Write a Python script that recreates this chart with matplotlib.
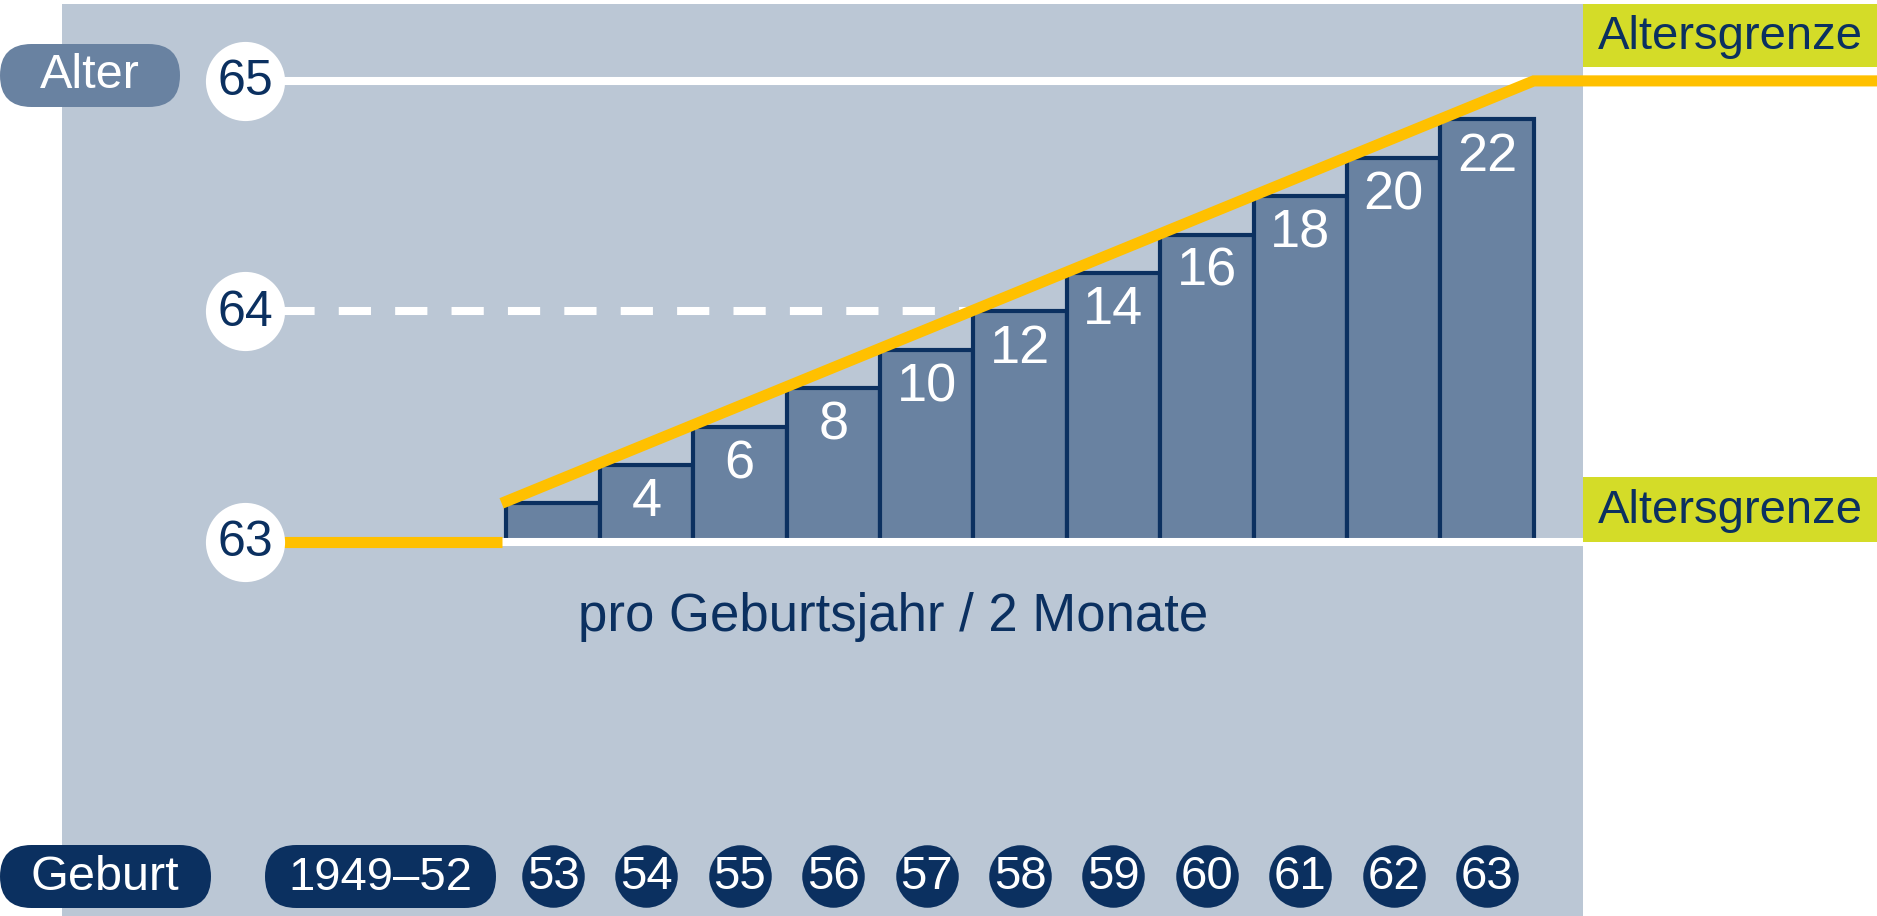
import numpy as np
import matplotlib
matplotlib.use("Agg")
import matplotlib.pyplot as plt
import matplotlib.patches as patches

plt.rcParams['font.family'] = ['Liberation Sans', 'DejaVu Sans']

# --- data -------------------------------------------------------------
birth_years = ['53', '54', '55', '56', '57', '58', '59', '60', '61', '62', '63']
extra_months = [2, 4, 6, 8, 10, 12, 14, 16, 18, 20, 22]
bar_labels = ['', '4', '6', '8', '10', '12', '14', '16', '18', '20', '22']
age_levels = [63, 64, 65]
first_group = '1949–52'
caption = 'pro Geburtsjahr / 2 Monate'
limit_label = 'Altersgrenze'

# --- colours ----------------------------------------------------------
NAVY = '#0b3060'
BAR = '#6982a1'
PANEL = '#bbc7d5'
YELLOW = '#ffc000'
GREEN = '#d4dc28'

W, H = 1877, 916
# pixel layout of the data axes (bar pitch / month height)
X0, PX_PER_X = 553, 93.4
Y0, PX_PER_M = 541.7, 19.2


def px2x(px):
    return (px - X0) / PX_PER_X


def px2m(py):
    return (Y0 - py) / PX_PER_M


fig = plt.figure(figsize=(W / 100, H / 100), dpi=100)

# background layer in pixel coordinates
bg = fig.add_axes([0, 0, 1, 1])
bg.set_xlim(0, W)
bg.set_ylim(H, 0)
bg.axis('off')

bg.add_patch(patches.Rectangle((62, 4), 1521, 912, facecolor=PANEL, linewidth=0))


def pill(x, y, w, h, color):
    bg.add_patch(patches.FancyBboxPatch((x, y), w, h,
                                        boxstyle=f"round,pad=0,rounding_size={h / 2}",
                                        facecolor=color, linewidth=0))


pill(0, 44, 180, 63, BAR)
pill(0, 845, 211, 63, NAVY)
pill(265, 845, 231, 63, NAVY)
bg.text(90, 75, 'Alter', color='white', fontsize=35, ha='center', va='center')
bg.text(105, 878, 'Geburt', color='white', fontsize=35, ha='center', va='center')
bg.text(380, 878, first_group, color='white', fontsize=34, ha='center', va='center')

bg.add_patch(patches.Rectangle((1583, 4), 294, 63, facecolor=GREEN, linewidth=0))
bg.add_patch(patches.Rectangle((1583, 477), 294, 65, facecolor=GREEN, linewidth=0))
bg.text(1730, 37, limit_label, color=NAVY, fontsize=34, ha='center', va='center')
bg.text(1730, 511, limit_label, color=NAVY, fontsize=34, ha='center', va='center')

bg.text(893, 617, caption, color=NAVY, fontsize=38, ha='center', va='center')

# data layer
ax = fig.add_axes([0, 0, 1, 1])
ax.patch.set_alpha(0)
ax.axis('off')
ax.set_xlim(px2x(0), px2x(W))
ax.set_ylim(px2m(H), px2m(0))

x = np.arange(len(extra_months))
ax.bar(x, extra_months, width=1.0, color=BAR, edgecolor=NAVY, linewidth=3, zorder=3)

for xi, v, lab in zip(x, extra_months, bar_labels):
    if lab:
        ax.annotate(lab, (xi, v), xytext=(0, -27), textcoords='offset points',
                    color='white', fontsize=39, ha='center', va='center', zorder=4)

age_months = [(a - age_levels[0]) * 12 for a in age_levels]
age_x = px2x(245)
panel_right = px2x(1583)

# 65 line
ax.plot([age_x, panel_right], [age_months[2]] * 2, color='white', lw=5.8, zorder=2,
        solid_capstyle='butt')
# 64 dashed line, up to the first bar that reaches it
idx = next(i for i, v in enumerate(extra_months) if v >= age_months[1])
ax.plot([age_x, x[idx] - 0.5], [age_months[1]] * 2, color='white', lw=5.8, zorder=2,
        linestyle=(2.36, (4, 3)), dash_capstyle='butt')
# 63 baseline
ax.plot([age_x, panel_right], [age_months[0]] * 2, color='white', lw=5.8, zorder=4,
        solid_capstyle='butt')

# yellow age limit
ax.plot([age_x, x[0] - 0.55], [age_months[0]] * 2, color=YELLOW, lw=8, zorder=5,
        solid_capstyle='butt')
ax.plot([x[0] - 0.55, x[-1] + 0.5, px2x(W)], [extra_months[0], age_months[2], age_months[2]],
        color=YELLOW, lw=8, zorder=5, solid_capstyle='butt', solid_joinstyle='miter')

# age circles
ax.scatter([age_x] * len(age_levels), age_months, s=57 ** 2, color='white',
           linewidths=0, zorder=6)
for a, m in zip(age_levels, age_months):
    ax.annotate(str(a), (age_x, m), xytext=(0, -1), textcoords='offset points',
                color=NAVY, fontsize=36, ha='center', va='center', zorder=7)

# birth year circles
year_m = px2m(876)
ax.scatter(x, [year_m] * len(x), s=45 ** 2, color=NAVY, linewidths=0, zorder=6)
for xi, yr in zip(x, birth_years):
    ax.annotate(yr, (xi, year_m), xytext=(0, -1), textcoords='offset points',
                color='white', fontsize=34, ha='center', va='center', zorder=7)

fig.savefig('out.png', dpi=100)
